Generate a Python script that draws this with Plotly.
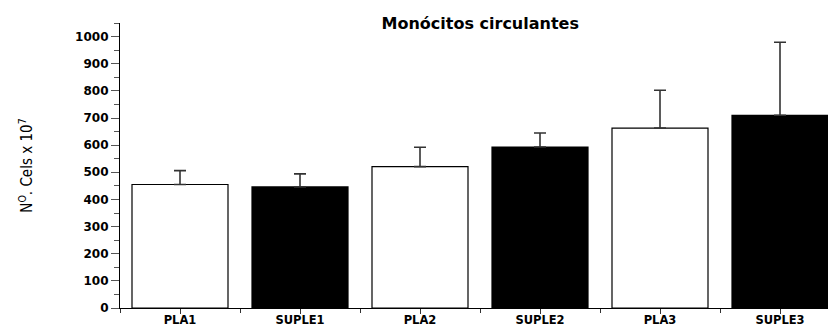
import plotly.graph_objects as go

categories = ["PLA1", "SUPLE1", "PLA2", "SUPLE2", "PLA3", "SUPLE3"]
means = [455, 446, 521, 593, 663, 710]
errors = [51, 48, 71, 52, 139, 269]
fills = ["white", "black", "white", "black", "white", "black"]

x = list(range(len(categories)))

fig = go.Figure()
fig.add_trace(go.Bar(
    x=x, y=means, width=0.8,
    marker=dict(color=fills, line=dict(color="black", width=1.2)),
    error_y=dict(type="data", array=errors, symmetric=False, arrayminus=[0]*6,
                 color="#333333", thickness=1.6, width=6, visible=True),
    showlegend=False,
))

tickfont = dict(family="DejaVu Sans", size=12, color="black", weight="bold")

fig.update_layout(
    width=828, height=327,
    margin=dict(l=120, r=0, t=23, b=17),
    paper_bgcolor="white", plot_bgcolor="white",
    bargap=0.2,
    title=dict(text="<b>Monócitos circulantes</b>", x=0.58, xanchor="center",
               y=1 - 23/327, yanchor="middle", yref="container",
               font=dict(family="DejaVu Sans", size=16, color="black")),
    xaxis=dict(range=[-0.5, 5.4], tickvals=x, ticktext=categories,
               showline=True, linecolor="black", linewidth=1,
               ticks="outside", ticklen=5, tickcolor="#333333",
               ticklabelstandoff=-4,
               minor=dict(tickvals=[-0.5, 0.5, 1.5, 2.5, 3.5, 4.5], ticks="outside", ticklen=4, tickcolor="#333333"),
               showgrid=False, zeroline=False,
               tickfont=dict(family="DejaVu Sans", size=11.5, color="black", weight="bold"),
               fixedrange=True),
    yaxis=dict(range=[0, 1050], tickvals=[0, 100, 200, 300, 400, 500, 600, 700, 800, 900, 1000],
               showline=True, linecolor="black", linewidth=1.2,
               ticks="outside", ticklen=8, tickcolor="#555555",
               minor=dict(tickvals=[50, 150, 250, 350, 450, 550, 650, 750, 850, 950, 1050],
                          ticks="outside", ticklen=5, tickcolor="#555555"),
               showgrid=False, zeroline=False, tickfont=tickfont,
               title=dict(text="N<sup>O</sup>. Cels x 10<sup>7</sup>", standoff=38,
                          font=dict(family="DejaVu Sans Condensed, Liberation Sans Narrow, sans-serif", size=15, color="black"))),
)

fig.write_html("out.html", config={"displayModeBar": False},
               post_script="document.body.style.margin='0';document.body.style.padding='0';")
